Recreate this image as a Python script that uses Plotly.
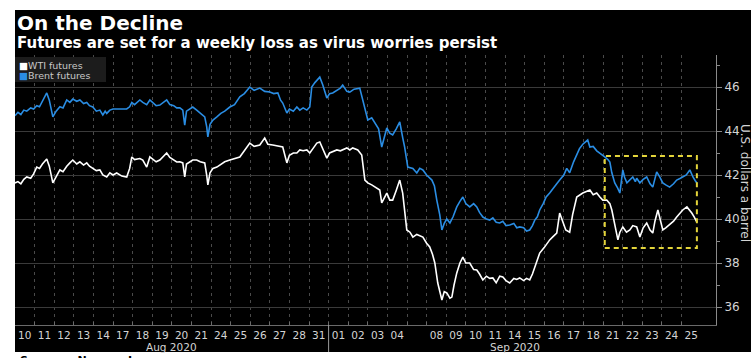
import plotly.graph_objects as go

# ---- data ----
day_labels = ["10","11","12","13","14","17","18","19","20","21","24","25","26","27","28","31",
              "01","02","03","04","","08","09","10","11","14","15","16","17","18",
              "21","22","23","24","25"]
month_labels = ["Aug 2020", "Sep 2020"]
month_start = [0, 16]
month_end = [16, 35]

brent_t = [0.00,0.15,0.30,0.45,0.60,0.80,0.95,1.11,1.25,1.40,1.62,1.75,1.93,2.10,2.29,2.45,2.64,2.80,2.95,3.15,
           3.31,3.50,3.66,3.80,3.97,4.15,4.33,4.48,4.60,4.68,4.84,5.00,5.19,5.70,5.85,5.96,6.10,6.37,6.52,6.72,
           6.88,7.05,7.20,7.39,7.55,7.74,7.90,8.10,8.25,8.41,8.56,8.66,8.75,9.07,9.27,9.45,9.68,9.78,9.84,9.95,
           10.10,10.30,10.50,10.70,10.96,11.20,11.47,11.70,11.98,12.20,12.49,12.74,13.00,13.20,13.41,13.55,13.66,13.87,14.00,14.20,
           14.38,14.53,14.70,14.89,15.04,15.14,15.30,15.55,15.70,15.91,16.05,16.21,16.42,16.60,16.72,16.93,17.08,17.30,17.59,17.74,
           17.85,18.00,18.20,18.36,18.55,18.71,18.85,18.97,19.12,19.27,19.45,19.63,19.78,19.88,20.04,20.30,20.50,20.65,20.81,21.00,
           21.27,21.40,21.52,21.67,21.78,21.90,22.03,22.19,22.35,22.54,22.70,22.85,23.00,23.20,23.40,23.56,23.70,23.87,24.05,24.22,
           24.38,24.55,24.73,24.89,25.05,25.24,25.45,25.60,25.75,25.95,26.10,26.26,26.40,26.52,26.65,26.77,26.95,27.10,27.28,27.45,
           27.64,27.79,28.00,28.15,28.30,28.50,28.66,28.80,28.97,29.10,29.22,29.33,29.50,29.68,29.84,30.09,30.25,30.35,30.45,30.60,
           30.75,30.86,31.01,31.10,31.22,31.37,31.52,31.65,31.72,31.88,32.05,32.23,32.40,32.54,32.65,32.74,32.90,33.05,33.20,33.40,
           33.60,33.76,33.95,34.07,34.25,34.43,34.53,34.59,34.70,34.79]
brent_v = [44.70,44.85,44.75,44.95,44.90,45.05,45.00,45.15,45.10,45.35,45.73,45.40,44.64,44.90,45.10,45.05,45.41,45.30,45.45,45.35,
           45.41,45.25,45.30,45.15,45.09,44.90,44.95,44.73,44.90,44.80,44.95,45.00,45.00,45.00,45.10,45.30,45.20,45.41,45.30,45.20,
           45.41,45.25,45.15,45.18,45.30,45.41,45.20,45.15,45.05,45.05,44.95,44.27,44.90,45.09,44.95,44.80,44.64,44.20,43.73,44.30,
           44.50,44.64,44.80,44.90,45.09,45.20,45.55,45.70,46.00,45.85,45.95,45.80,45.77,45.70,45.73,45.40,45.27,44.82,45.00,44.90,
           45.09,44.95,45.05,44.95,45.09,46.00,46.20,46.45,46.10,45.50,45.70,45.73,45.86,45.95,46.09,45.80,45.77,45.90,45.95,45.41,
           45.00,44.50,44.60,44.36,44.10,43.27,43.80,44.14,43.90,43.82,44.10,44.41,43.70,43.27,42.36,42.30,42.09,42.30,42.23,42.00,
           41.77,41.50,40.86,40.20,39.50,39.80,40.00,39.82,40.10,40.55,40.80,41.00,40.70,40.55,40.70,40.55,40.30,40.09,40.00,39.95,
           40.05,39.85,39.82,39.90,39.70,39.73,39.80,39.60,39.64,39.60,39.45,39.50,39.70,39.95,40.10,40.41,40.70,41.00,41.18,41.40,
           41.60,41.77,42.00,42.30,42.10,42.60,42.90,43.20,43.40,43.50,43.59,43.27,43.30,43.10,43.00,42.82,42.70,42.59,42.10,41.64,
           41.40,41.18,42.23,41.90,41.64,41.80,41.91,41.70,41.85,41.64,41.80,41.91,41.60,41.45,41.80,42.14,41.90,41.64,41.55,41.45,
           41.60,41.77,41.85,41.91,42.00,42.23,42.00,41.91,41.75,41.64]

wti_t = [0.00,0.15,0.30,0.45,0.60,0.80,0.95,1.11,1.25,1.40,1.62,1.75,1.93,2.10,2.29,2.45,2.64,2.80,2.95,3.15,
         3.31,3.50,3.66,3.80,3.97,4.15,4.33,4.48,4.68,4.84,5.00,5.19,5.45,5.70,5.85,5.96,6.10,6.37,6.52,6.72,
         6.88,7.05,7.20,7.39,7.55,7.74,7.90,8.10,8.25,8.41,8.56,8.66,8.75,9.07,9.27,9.45,9.68,9.78,9.84,9.95,
         10.10,10.30,10.50,10.70,10.96,11.20,11.47,11.70,11.98,12.20,12.49,12.74,12.90,13.15,13.41,13.66,13.87,14.00,14.20,14.38,
         14.53,14.70,14.89,15.04,15.20,15.40,15.55,15.70,15.91,16.05,16.21,16.42,16.60,16.72,16.93,17.08,17.23,17.49,17.69,17.85,
         18.00,18.20,18.36,18.61,18.71,18.85,18.97,19.12,19.27,19.45,19.63,19.78,19.88,19.99,20.15,20.30,20.50,20.81,21.00,21.16,
         21.30,21.42,21.57,21.70,21.78,21.90,22.03,22.19,22.29,22.40,22.54,22.70,22.85,23.00,23.20,23.40,23.56,23.70,23.87,24.05,
         24.22,24.38,24.55,24.73,24.89,25.05,25.24,25.45,25.60,25.75,25.95,26.10,26.26,26.40,26.52,26.65,26.77,27.00,27.28,27.45,
         27.64,27.79,27.95,28.10,28.30,28.45,28.66,28.80,28.97,29.15,29.33,29.50,29.68,29.84,29.99,30.19,30.35,30.45,30.60,30.76,
         30.86,31.01,31.20,31.37,31.52,31.72,31.88,32.05,32.23,32.40,32.54,32.65,32.80,32.95,33.05,33.20,33.40,33.60,33.76,33.95,
         34.07,34.28,34.43,34.53,34.65,34.79]
wti_v = [41.64,41.70,41.60,41.80,41.91,41.85,42.05,42.36,42.30,42.50,42.73,42.40,41.64,41.90,42.23,42.15,42.40,42.55,42.68,42.50,
         42.60,42.45,42.55,42.40,42.30,42.20,42.23,42.00,41.91,42.10,42.00,42.09,41.95,41.91,42.30,42.82,42.70,42.75,42.68,42.36,
         42.82,42.70,42.60,42.68,42.85,43.00,42.80,42.70,42.59,42.60,42.55,41.91,42.50,42.68,42.68,42.60,42.55,42.00,41.55,42.10,
         42.30,42.36,42.50,42.60,42.68,42.75,42.82,43.10,43.45,43.30,43.36,43.68,43.40,43.36,43.30,43.27,42.55,42.90,43.00,43.00,
         43.14,43.10,43.14,43.00,43.20,43.45,43.50,43.20,42.77,43.00,43.05,43.14,43.10,43.14,43.23,43.14,43.23,43.14,42.91,41.77,
         41.64,41.55,41.45,41.32,40.73,41.00,41.18,40.86,40.86,41.30,41.77,41.18,40.27,39.50,39.40,39.18,39.30,39.18,38.90,38.73,
         38.40,38.00,37.09,36.60,36.32,36.70,36.64,36.40,36.45,37.00,37.55,38.00,38.27,38.00,38.00,37.70,37.68,37.50,37.23,37.40,
         37.30,37.32,37.10,37.40,37.36,37.20,37.09,37.30,37.25,37.32,37.20,37.30,37.23,37.50,37.82,38.10,38.45,38.70,39.05,39.20,
         39.36,40.27,39.90,39.50,39.40,40.20,41.00,41.10,41.18,41.25,41.32,41.10,41.18,41.00,40.86,40.86,40.70,40.41,39.82,39.05,
         39.40,39.64,39.40,39.50,39.70,39.64,39.18,39.60,39.82,39.50,39.36,39.90,40.41,39.80,39.50,39.60,39.73,39.90,40.09,40.30,
         40.41,40.55,40.40,40.27,40.10,39.86]

# highlight box (last week) in data units
box_x = [30.09, 34.79]
box_y = [38.68, 42.86]

# ---- layout constants ----
W, H = 751, 358
ML, MR, MT, MB = 15, 35, 55, 33
PW, PH = W - ML - MR, H - MT - MB


def px(x):
    return (x - ML) / PW


def py(y):
    return (H - MB - y) / PH


BLUE = "#2a8de3"
GRID = "#3a3a3a"
TXT = "#d4d4d4"
FONT = "DejaVu Sans"

fig = go.Figure()
fig.add_trace(go.Scatter(x=wti_t, y=wti_v, mode="lines", name="WTI futures",
                         line=dict(color="white", width=1.6), showlegend=False))
fig.add_trace(go.Scatter(x=brent_t, y=brent_v, mode="lines", name="Brent futures",
                         line=dict(color=BLUE, width=1.6), showlegend=False))

n_days = len(day_labels)
tickvals = [i + 0.5 for i in range(n_days) if day_labels[i]]
ticktext = [day_labels[i] for i in range(n_days) if day_labels[i]]

shapes = [
    # black panel
    dict(type="rect", xref="paper", yref="paper", x0=px(15), x1=px(751), y0=py(352), y1=py(10),
         fillcolor="black", line=dict(width=0), layer="below"),
    # legend box
    dict(type="rect", xref="paper", yref="paper", x0=px(15), x1=px(106), y0=py(82), y1=py(57),
         fillcolor="#1c1c1c", line=dict(width=0)),
    # highlight box
    dict(type="rect", xref="x", yref="y", x0=box_x[0], x1=box_x[1], y0=box_y[0], y1=box_y[1],
         line=dict(color="#e3d43a", width=2, dash="5px,4px")),
    # month separator
    dict(type="line", xref="x", yref="paper", x0=month_start[1], x1=month_start[1], y0=0, y1=py(352),
         line=dict(color="#9a9a9a", width=1)),
]

annotations = [
    dict(text="<b>On the Decline</b>", x=0, y=py(23.5), xref="paper", yref="paper", xanchor="left",
         yanchor="middle", showarrow=False, font=dict(family=FONT, size=20, color="white")),
    dict(text="<b>Futures are set for a weekly loss as virus worries persist</b>", x=0, y=py(42.5),
         xref="paper", yref="paper", xanchor="left", yanchor="middle", showarrow=False,
         font=dict(family=FONT, size=15, color="white")),
    dict(text="<span style='color:white'>■</span>WTI futures", x=px(17), y=py(65), xref="paper",
         yref="paper", xanchor="left", yanchor="middle", showarrow=False,
         font=dict(family=FONT, size=9.5, color="#c8c8c8")),
    dict(text="<span style='color:%s'>■</span>Brent futures" % BLUE, x=px(17), y=py(75), xref="paper",
         yref="paper", xanchor="left", yanchor="middle", showarrow=False,
         font=dict(family=FONT, size=9.5, color="#c8c8c8")),
    dict(text="U.S. dollars a barrel", x=px(745), y=py(183), xref="paper", yref="paper",
         xanchor="center", yanchor="middle", textangle=90, showarrow=False,
         font=dict(family=FONT, size=12, color=TXT)),
    dict(text="<b>Sources: Nymex, Ice</b>", x=px(18), y=py(352), xref="paper", yref="paper",
         xanchor="left", yanchor="top", showarrow=False,
         font=dict(family=FONT, size=11, color="black")),
]
for lab, s, e in zip(month_labels, month_start, month_end):
    annotations.append(dict(text=lab, x=(s + e) / 2, y=py(346.5), xref="x", yref="paper",
                            xanchor="center", yanchor="middle", showarrow=False,
                            font=dict(family=FONT, size=10.5, color=TXT)))

fig.update_layout(
    width=W, height=H,
    margin=dict(l=ML, r=MR, t=MT, b=MB, pad=0),
    paper_bgcolor="white", plot_bgcolor="black",
    showlegend=False,
    shapes=shapes, annotations=annotations,
    xaxis=dict(range=[0, PW / 19.6], tickmode="array", tickvals=tickvals, ticktext=ticktext,
               showgrid=False, zeroline=False, ticks="", showline=True, linecolor="#6a6a6a",
               ticklabelstandoff=0,
               tickfont=dict(family=FONT, size=10.5, color=TXT),
               minor=dict(tickmode="array", tickvals=list(range(1, n_days)), showgrid=True,
                          gridcolor="#4a4a4a", griddash="3px,4px", gridwidth=1,
                          ticks="inside", ticklen=3, tickcolor="#6a6a6a")),
    yaxis=dict(side="right", range=[36 - 18 / 22, 46 + 32 / 22], tickmode="linear", tick0=36, dtick=2,
               showgrid=True, gridcolor=GRID, gridwidth=1, zeroline=False,
               showline=True, linecolor="#8a8a8a", ticks="outside", ticklen=5, tickcolor="#8a8a8a",
               tickfont=dict(family=FONT, size=12, color=TXT),
               minor=dict(dtick=1, tick0=35, ticks="outside", ticklen=3, tickcolor="#8a8a8a", showgrid=False)),
)

fig.write_html("out.html")
